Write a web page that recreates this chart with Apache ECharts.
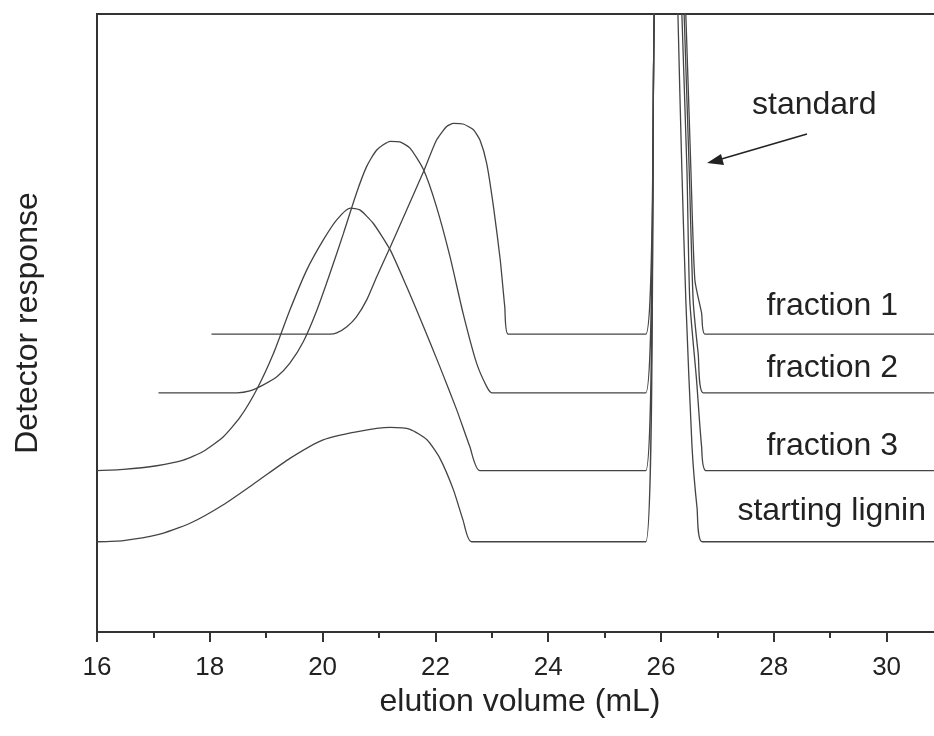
<!DOCTYPE html>
<html>
<head>
<meta charset="utf-8">
<script src="https://cdn.jsdelivr.net/npm/echarts@6/dist/echarts.min.js"></script>
<style>
html, body { margin: 0; padding: 0; background: #fff; }
#chart { width: 934px; height: 736px; }
</style>
</head>
<body>
<div id="chart"></div>
<script>
// elution volume (mL) / detector response (arbitrary units)
const frac1X = [18.03, 20.13, 20.25, 20.43, 20.60, 20.78, 20.96, 21.20, 21.49, 21.79, 22.02, 22.20, 22.32, 22.49, 22.67, 22.79, 22.91, 23.03, 23.15, 23.23, 23.29,
                25.73, 25.88, 26.12, 26.44, 26.53, 26.60, 26.72, 26.78, 31];
const frac1Y = [48.2, 48.2, 48.4, 49.4, 51.0, 53.7, 57.5, 62.3, 68.3, 74.5, 79.6, 81.8, 82.3, 82.2, 81.3, 79.6, 75.8, 68.8, 60.2, 52.6, 48.2,
                48.2, 100, 180, 100, 74.8, 57.0, 51.6, 48.2, 48.2];

const frac2X = [17.09, 18.48, 18.71, 18.95, 19.19, 19.42, 19.66, 19.90, 20.13, 20.37, 20.60, 20.78, 20.96, 21.20, 21.37, 21.55, 21.79, 22.02, 22.26, 22.49, 22.73, 22.91, 23.00,
                25.73, 25.88, 26.12, 26.41, 26.50, 26.57, 26.66, 26.75, 31];
const frac2Y = [38.7, 38.7, 39.0, 40.0, 41.3, 43.5, 47.0, 52.1, 58.0, 64.5, 71.0, 75.3, 78.0, 79.4, 79.3, 78.3, 74.8, 68.8, 60.7, 51.6, 43.5, 39.7, 38.7,
                38.7, 100, 180, 100, 74.8, 53.7, 45.0, 38.7, 38.7];

const frac3X = [16, 16.47, 17.06, 17.53, 17.88, 18.24, 18.54, 18.83, 19.13, 19.42, 19.72, 20.01, 20.25, 20.49, 20.66, 20.90, 21.20, 21.49, 21.79, 22.08, 22.38, 22.61, 22.79,
                25.73, 25.88, 26.12, 26.37, 26.46, 26.51, 26.63, 26.72, 26.80, 31];
const frac3Y = [26.1, 26.3, 26.9, 27.8, 29.2, 31.6, 34.8, 39.2, 45.1, 52.1, 58.6, 63.4, 66.7, 68.6, 68.3, 66.1, 61.8, 55.9, 49.4, 42.9, 35.9, 30.0, 26.1,
                26.1, 100, 180, 100, 74.8, 53.7, 40.8, 30.0, 26.1, 26.1];

const ligninX = [16, 16.47, 17.06, 17.65, 18.24, 18.83, 19.42, 20.01, 20.60, 21.20, 21.55, 21.85, 22.08, 22.32, 22.49, 22.64,
                 25.73, 25.88, 26.12, 26.30, 26.37, 26.44, 26.55, 26.64, 26.73, 31];
const ligninY = [14.6, 14.8, 15.7, 17.6, 20.6, 24.3, 28.1, 31.1, 32.4, 33.1, 32.8, 31.1, 28.1, 23.0, 18.1, 14.6,
                 14.6, 100, 180, 100, 74.8, 53.7, 30.0, 20.0, 14.6, 14.6];

const seriesNames = ['fraction 1', 'fraction 2', 'fraction 3', 'starting lignin'];
const xTicks = [16, 18, 20, 22, 24, 26, 28, 30];

const zip = (xs, ys) => xs.map((x, i) => [x, ys[i]]);
const allData = [zip(frac1X, frac1Y), zip(frac2X, frac2Y), zip(frac3X, frac3Y), zip(ligninX, ligninY)];

const font = 'Liberation Sans, Arial, sans-serif';
const ink = '#222';

let myChart = echarts.init(document.getElementById('chart'));
let option = {
    backgroundColor: '#fff',
    animation: false,
    grid: {
        left: 97, top: 14, bottom: 104, right: -9,
        outerBoundsMode: 'none',
        show: true, borderColor: '#333', borderWidth: 2
    },
    xAxis: {
        type: 'value', min: 16, max: 31, interval: 2,
        name: 'elution volume (mL)', nameLocation: 'middle', nameGap: 54,
        nameTextStyle: {color: ink, fontSize: 32, fontFamily: font},
        axisLine: {show: true, lineStyle: {color: '#333', width: 2}},
        axisTick: {show: true, length: 10, lineStyle: {color: '#333', width: 2}},
        minorTick: {show: true, splitNumber: 2, length: 6, lineStyle: {color: '#333', width: 2}},
        splitLine: {show: false},
        axisLabel: {
            color: ink, fontSize: 26, fontFamily: font, margin: 23,
            formatter: v => xTicks.includes(v) ? String(v) : ''
        }
    },
    yAxis: {
        type: 'value', min: 0, max: 100,
        name: 'Detector response', nameLocation: 'middle', nameGap: 53,
        nameTextStyle: {color: ink, fontSize: 32, fontFamily: font},
        axisLine: {show: true, lineStyle: {color: '#333', width: 2}},
        axisTick: {show: false},
        axisLabel: {show: false},
        splitLine: {show: false}
    },
    series: seriesNames.map((n, i) => ({
        name: n, type: 'line', data: allData[i],
        showSymbol: false, clip: true,
        smooth: 0.2,
        lineStyle: {color: '#444', width: 1.3}
    })),
    graphic: [
        {type: 'text', right: 36, top: 290, style: {text: 'fraction 1', fill: ink, font: '32px ' + font}},
        {type: 'text', right: 36, top: 352, style: {text: 'fraction 2', fill: ink, font: '32px ' + font}},
        {type: 'text', right: 36, top: 430, style: {text: 'fraction 3', fill: ink, font: '32px ' + font}},
        {type: 'text', right: 8, top: 495, style: {text: 'starting lignin', fill: ink, font: '32px ' + font}},
        {type: 'text', left: 752, top: 89, style: {text: 'standard', fill: ink, font: '32px ' + font}},
        {type: 'line', shape: {x1: 807, y1: 134, x2: 718, y2: 160}, style: {stroke: '#222', lineWidth: 1.5}},
        {type: 'polygon', shape: {points: [[707, 163], [721, 154], [724, 165]]}, style: {fill: '#222'}}
    ]
};
myChart.setOption(option);
</script>
</body>
</html>
